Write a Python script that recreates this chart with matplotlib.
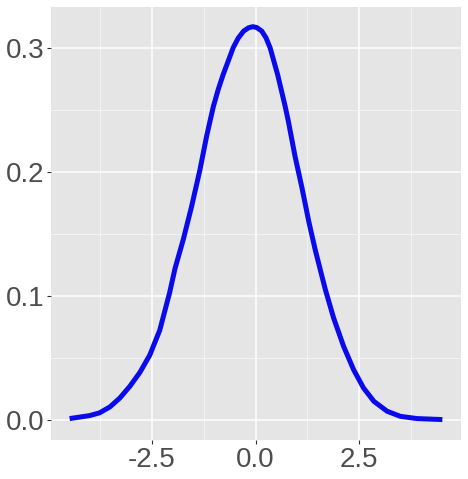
import matplotlib
matplotlib.use("Agg")
import matplotlib.pyplot as plt
from matplotlib.ticker import MultipleLocator

# Density curve
x_vals = [-4.48, -4.00, -3.76, -3.51, -3.27, -3.03, -2.79, -2.55, -2.31, -2.07,
          -1.94, -1.74, -1.54, -1.34, -1.18, -1.02, -0.90, -0.78, -0.54, -0.42,
          -0.29, -0.17, -0.07, 0.03, 0.15, 0.25, 0.35, 0.53, 0.71, 0.79,
          0.95, 1.12, 1.28, 1.44, 1.56, 1.68, 1.88, 2.12, 2.36, 2.60,
          2.85, 3.17, 3.49, 3.89, 4.50]
density = [0.0014, 0.0038, 0.0060, 0.0108, 0.0180, 0.0274, 0.0385, 0.0525, 0.0725, 0.1030,
           0.1225, 0.1460, 0.1726, 0.2020, 0.2290, 0.2526, 0.2667, 0.2788, 0.3003, 0.3080,
           0.3137, 0.3164, 0.3173, 0.3166, 0.3137, 0.3084, 0.3003, 0.2788, 0.2535, 0.2410,
           0.2129, 0.1870, 0.1605, 0.1370, 0.1212, 0.1055, 0.0825, 0.0597, 0.0409, 0.0261,
           0.0153, 0.0073, 0.0032, 0.0014, 0.0006]
x_ticks = [-2.5, 0.0, 2.5]
y_ticks = [0.0, 0.1, 0.2, 0.3]

plt.rcParams['font.family'] = ['Liberation Sans', 'DejaVu Sans']

fig = plt.figure(figsize=(4.68, 4.79), dpi=100)
ax = fig.add_axes([51/468, 1-440/479, 410/468, 433/479])
ax.set_facecolor('#E5E5E5')
for s in ax.spines.values():
    s.set_visible(False)

ax.plot(x_vals, density, color='#0A0AEB', lw=3.6, solid_capstyle='butt',
        solid_joinstyle='round', zorder=3)

xmin, xmax = min(x_vals), max(x_vals)
ymin, ymax = 0.0, max(density)
dx = (xmax - xmin) * 0.05
dy = (ymax - ymin) * 0.05
ax.set_xlim(xmin - dx, xmax + dx)
ax.set_ylim(ymin - dy, ymax + dy)

ax.set_xticks(x_ticks)
ax.set_xticklabels([f"{t:.1f}" for t in x_ticks])
ax.set_yticks(y_ticks)
ax.set_yticklabels([f"{t:.1f}" for t in y_ticks])
ax.xaxis.set_minor_locator(MultipleLocator(1.25))
ax.yaxis.set_minor_locator(MultipleLocator(0.05))

ax.grid(which='major', color='white', lw=1.1, zorder=0)
ax.grid(which='minor', color='#F5F5F5', lw=0.6, zorder=0)
ax.set_axisbelow(True)

ax.tick_params(which='major', length=3, width=0.8, color='#333333',
               labelsize=20, labelcolor='#4D4D4D', pad=2)
ax.tick_params(which='minor', length=0)

fig.savefig('out.png', dpi=100)
